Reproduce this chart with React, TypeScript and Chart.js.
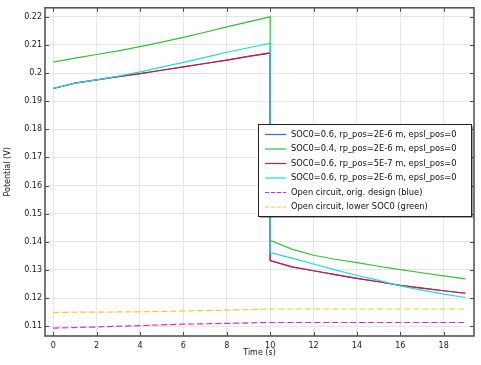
import React, { useEffect, useRef } from "react";
import { Chart, registerables } from "chart.js";
Chart.register(...registerables);

// Time axis (s) for the discharge curves (step at t = 10 s)
const timeMain = [0, 1, 2, 3, 4, 5, 6, 7, 8, 9, 10, 10, 11, 12, 13, 14, 15, 16, 17, 18, 19];
// SOC0=0.6, rp_pos=2E-6 m (blue)
const socHighBase = [0.1945, 0.1964, 0.1976, 0.1987, 0.1998, 0.2010, 0.2022, 0.2034, 0.2046, 0.2059, 0.2071, 0.1333, 0.1311, 0.1297, 0.1283, 0.1270, 0.1258, 0.1245, 0.1235, 0.1226, 0.1217];
// SOC0=0.4 (green)
const socLow = [0.2039, 0.2053, 0.2066, 0.2079, 0.2094, 0.2110, 0.2127, 0.2145, 0.2164, 0.2182, 0.2200, 0.1405, 0.1374, 0.1352, 0.1338, 0.1326, 0.1313, 0.1301, 0.1290, 0.1279, 0.1268];
// SOC0=0.6, rp_pos=5E-7 m (red)
const socHighSmallR = [0.1945, 0.1964, 0.1976, 0.1987, 0.1998, 0.2010, 0.2022, 0.2034, 0.2046, 0.2059, 0.2072, 0.1333, 0.1311, 0.1297, 0.1283, 0.1270, 0.1258, 0.1245, 0.1235, 0.1226, 0.1217];
// SOC0=0.6, epsl variant (cyan)
const socHighEps = [0.1945, 0.1964, 0.1976, 0.1989, 0.2004, 0.2021, 0.2038, 0.2056, 0.2074, 0.2090, 0.2106, 0.1362, 0.1342, 0.1321, 0.1300, 0.1280, 0.1263, 0.1243, 0.1228, 0.1214, 0.1202];

// Open circuit curves
const timeOC = [0, 2, 4, 6, 8, 10, 12, 14, 16, 18, 19];
const ocOrig = [0.1093, 0.1097, 0.1102, 0.1107, 0.1110, 0.1113, 0.1113, 0.1113, 0.1113, 0.1113, 0.1113];
const ocLow = [0.1149, 0.1150, 0.1151, 0.1154, 0.1157, 0.1161, 0.1161, 0.1161, 0.1161, 0.1161, 0.1161];

const seriesLabels = [
  "SOC0=0.6, rp_pos=2E-6 m, epsl_pos=0",
  "SOC0=0.4, rp_pos=2E-6 m, epsl_pos=0",
  "SOC0=0.6, rp_pos=5E-7 m, epsl_pos=0",
  "SOC0=0.6, rp_pos=2E-6 m, epsl_pos=0",
  "Open circuit, orig. design (blue)",
  "Open circuit, lower SOC0 (green)",
];
const seriesColors = ["#3f5fff", "#35c035", "#d01c30", "#22dada", "#d42ad4", "#ffc42a"];
const seriesDashed = [false, false, false, false, true, true];

const xTitle = "Time (s)";
const yTitle = "Potential (V)";

const FONT = "DejaVu Sans";
const FS = 8;
const LEGEND_FS = 8.3;

const pts = (xs: number[], ys: number[]) => xs.map((x, i) => ({ x, y: ys[i] }));

export default function App() {
  const ref = useRef<HTMLCanvasElement | null>(null);

  useEffect(() => {
    const canvas = ref.current;
    if (!canvas) return;
    const allY = [socHighBase, socLow, socHighSmallR, socHighEps, ocOrig, ocLow];
    const allX = [timeMain, timeMain, timeMain, timeMain, timeOC, timeOC];

    const datasets = allY.map((ys, i) => ({
      label: seriesLabels[i],
      data: pts(allX[i], ys),
      borderColor: seriesColors[i],
      backgroundColor: seriesColors[i],
      borderWidth: 1.2,
      borderDash: seriesDashed[i] ? [6, 3] : [],
      pointRadius: 0,
      tension: 0,
      fill: false,
      order: allY.length - i,
    }));

    const framePlugin = {
      id: "frame",
      afterDraw(chart: any) {
        const { ctx, chartArea, scales } = chart;
        const { left, right, top, bottom } = chartArea;
        ctx.save();
        ctx.strokeStyle = "#4a4a4a";
        ctx.lineWidth = 1;
        scales.x.ticks.forEach((t: any) => {
          const px = Math.round(scales.x.getPixelForValue(t.value)) + 0.5;
          ctx.beginPath();
          ctx.moveTo(px, bottom);
          ctx.lineTo(px, bottom - 4);
          ctx.moveTo(px, top);
          ctx.lineTo(px, top + 4);
          ctx.stroke();
        });
        scales.y.ticks.forEach((t: any) => {
          const py = Math.round(scales.y.getPixelForValue(t.value)) + 0.5;
          ctx.beginPath();
          ctx.moveTo(left, py);
          ctx.lineTo(left + 4, py);
          ctx.moveTo(right, py);
          ctx.lineTo(right - 4, py);
          ctx.stroke();
        });
        ctx.lineWidth = 1.6;
        ctx.strokeStyle = "#555555";
        ctx.strokeRect(left, top, right - left, bottom - top);

        // legend box
        const bx = 258, by = 124, bw = 213, bh = 92;
        ctx.fillStyle = "rgba(0,0,0,0.35)";
        ctx.fillRect(bx + 2, by + 2, bw, bh);
        ctx.fillStyle = "#ffffff";
        ctx.fillRect(bx, by, bw, bh);
        ctx.lineWidth = 1;
        ctx.strokeStyle = "#222222";
        ctx.strokeRect(bx + 0.5, by + 0.5, bw, bh);
        ctx.font = `${LEGEND_FS}px "${FONT}"`;
        ctx.textBaseline = "middle";
        ctx.textAlign = "left";
        seriesLabels.forEach((lab, i) => {
          const yy = by + 10.5 + i * 14.5;
          ctx.strokeStyle = seriesColors[i];
          ctx.lineWidth = 1.2;
          ctx.setLineDash(seriesDashed[i] ? [4, 2] : []);
          ctx.beginPath();
          ctx.moveTo(bx + 7, yy);
          ctx.lineTo(bx + 28, yy);
          ctx.stroke();
          ctx.setLineDash([]);
          ctx.fillStyle = "#111111";
          ctx.fillText(lab, bx + 33, yy);
        });
        ctx.restore();
      },
    };

    const chart = new Chart(canvas, {
      type: "line",
      data: { datasets },
      options: {
        animation: false,
        responsive: false,
        maintainAspectRatio: false,
        layout: { padding: { left: 0, right: 7, top: 4, bottom: 0 } },
        plugins: {
          legend: { display: false },
          tooltip: { enabled: false },
        },
        scales: {
          x: {
            type: "linear",
            min: -0.38,
            max: 19.4,
            grid: { color: "#e6e6e6", drawTicks: false, lineWidth: 1 },
            border: { display: false },
            ticks: {
              stepSize: 2,
              includeBounds: false,
              padding: 5,
              color: "#1a1a1a",
              font: { family: FONT, size: FS },
              maxRotation: 0,
            },
            title: {
              display: true,
              text: xTitle,
              color: "#1a1a1a",
              font: { family: FONT, size: FS },
              padding: { top: 0, bottom: 7 },
            },
            afterFit: (s: any) => {
              s.height = 29;
            },
          },
          y: {
            type: "linear",
            min: 0.1065,
            max: 0.2232,
            grid: { color: "#e6e6e6", drawTicks: false, lineWidth: 1 },
            border: { display: false },
            ticks: {
              stepSize: 0.01,
              includeBounds: false,
              padding: 3,
              color: "#1a1a1a",
              font: { family: FONT, size: FS },
              callback: (v: any) => String(parseFloat(Number(v).toFixed(2))),
            },
            title: {
              display: true,
              text: yTitle,
              color: "#1a1a1a",
              font: { family: FONT, size: FS },
              padding: { top: 3, bottom: 0 },
            },
            afterFit: (s: any) => {
              s.width = 45;
            },
          },
        },
      },
      plugins: [framePlugin],
    });
    return () => chart.destroy();
  }, []);

  return (
    <div style={{ position: "absolute", left: 0, top: 0, width: 481, height: 365, background: "#fff" }}>
      <canvas ref={ref} width={481} height={365} style={{ display: "block", width: 481, height: 365 }} />
    </div>
  );
}
